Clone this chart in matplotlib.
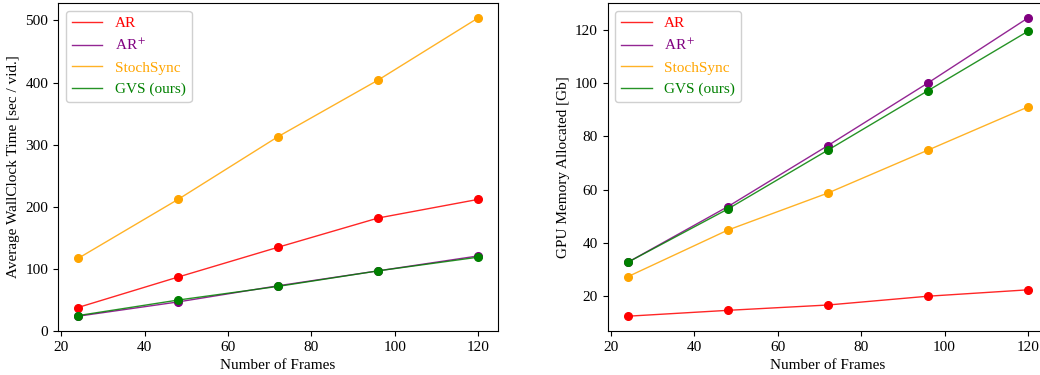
import matplotlib

matplotlib.use("Agg")

import matplotlib.pyplot as plt


FRAMES = [24, 48, 72, 96, 120]

TIME_AR = [38, 87, 135, 182, 212]
TIME_AR_PLUS = [24, 47, 73, 97, 121]
TIME_STOCHSYNC = [117, 212, 313, 404, 504]
TIME_GVS = [25, 50, 72, 97, 119]

MEM_AR = [12.5, 14.7, 16.7, 20.0, 22.4]
MEM_AR_PLUS = [32.7, 53.6, 76.5, 100.0, 124.4]
MEM_STOCHSYNC = [27.3, 44.8, 58.7, 74.8, 91.0]
MEM_GVS = [32.7, 52.7, 74.8, 97.1, 119.4]

LABELS = ["AR", "AR$^+$", "StochSync", "GVS (ours)"]
COLORS = ["red", "purple", "orange", "green"]


def draw_panel(ax, series, ylabel):
    for values, name, color in zip(series, LABELS, COLORS):
        ax.plot(FRAMES, values, color=color, linewidth=1.0, alpha=0.85, label=name)
        ax.plot(FRAMES, values, linestyle="none", marker="o", markersize=5.5, color=color)
    ax.set_xlabel("Number of Frames", fontsize=11)
    ax.set_ylabel(ylabel, fontsize=11)
    ax.tick_params(labelsize=11)
    leg = ax.legend(loc="upper left", fontsize=11, framealpha=1.0, edgecolor="#d0d0d0")
    for text, color in zip(leg.get_texts(), COLORS):
        text.set_color(color)


def main():
    plt.rcParams.update(
        {
            "font.family": ["Liberation Serif", "DejaVu Serif"],
            "mathtext.fontset": "stix",
        }
    )

    fig = plt.figure(figsize=(10.4, 3.75), dpi=100)
    ax_time = fig.add_axes([0.0558, 0.117, 0.4232, 0.875])
    ax_mem = fig.add_axes([0.5843, 0.117, 0.4234, 0.875])

    draw_panel(
        ax_time,
        [TIME_AR, TIME_AR_PLUS, TIME_STOCHSYNC, TIME_GVS],
        "Average WallClock Time [sec / vid.]",
    )
    draw_panel(
        ax_mem,
        [MEM_AR, MEM_AR_PLUS, MEM_STOCHSYNC, MEM_GVS],
        "GPU Memory Allocated [Gb]",
    )

    fig.savefig("out.png", dpi=100, facecolor="white")
    plt.close(fig)


if __name__ == "__main__":
    main()
